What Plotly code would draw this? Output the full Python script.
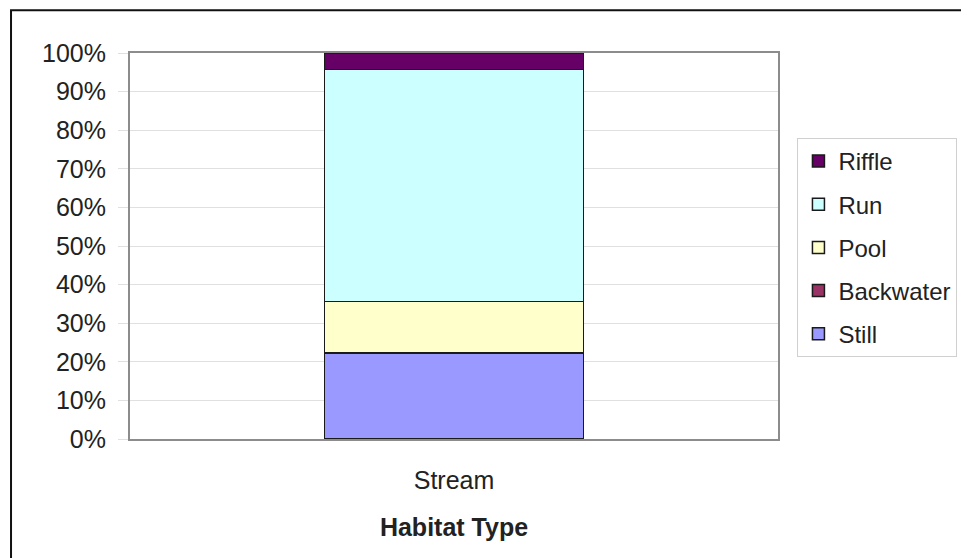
import plotly.graph_objects as go

categories = ["Stream"]
series_names = ["Still", "Backwater", "Pool", "Run", "Riffle"]
still = [22.3]
backwater = [0.0]
pool = [13.3]
run = [60.1]
riffle = [4.3]
series_values = [still, backwater, pool, run, riffle]
series_colors = ["#9999FF", "#993366", "#FFFFCC", "#CCFFFF", "#660066"]
tick_vals = [0, 10, 20, 30, 40, 50, 60, 70, 80, 90, 100]
tick_text = [f"{v}%" for v in tick_vals]

fig = go.Figure()
n = len(series_names)
for i, (name, vals, col) in enumerate(zip(series_names, series_values, series_colors)):
    fig.add_trace(go.Bar(
        x=categories, y=vals, name=name, legendgroup=name, legendrank=1000 + (n - i),
        marker=dict(color=col, line=dict(color="#1a1a1a", width=1.5)),
    ))

fig.update_layout(
    width=969, height=558,
    barmode="stack", bargap=0.6,
    paper_bgcolor="white", plot_bgcolor="white",
    margin=dict(l=122, r=199, t=45, b=127),
    font=dict(family="Arial, Liberation Sans, sans-serif", color="#222222", size=24),
    showlegend=True,
    legend=dict(
        traceorder="grouped", x=1.03, y=0.78, xanchor="left", yanchor="top",
        bordercolor="#d0d0d0", borderwidth=1, bgcolor="white",
        font=dict(size=24), tracegroupgap=9, itemwidth=30,
    ),
    xaxis=dict(
        showline=True, linecolor="#8c8c8c", linewidth=2, mirror=True,
        tickfont=dict(size=25), ticks="", ticklabelstandoff=18,
        title=dict(text="<b>Habitat Type</b>", font=dict(size=25), standoff=25),
    ),
    yaxis=dict(
        range=[0, 100], tickvals=tick_vals, ticktext=tick_text,
        showgrid=True, gridcolor="#e0e0e0", gridwidth=1,
        showline=True, linecolor="#8c8c8c", linewidth=2, mirror=True,
        ticks="outside", ticklen=10, tickcolor="#e0e0e0",
        tickfont=dict(size=25), zeroline=False, ticklabelstandoff=7,
    ),
    shapes=[dict(type="rect", xref="paper", yref="paper",
                 x0=-0.1836, x1=1.29, y0=-0.4, y1=1.111,
                 line=dict(color="#111111", width=2), layer="below")],
)

fig.write_html("out.html")
